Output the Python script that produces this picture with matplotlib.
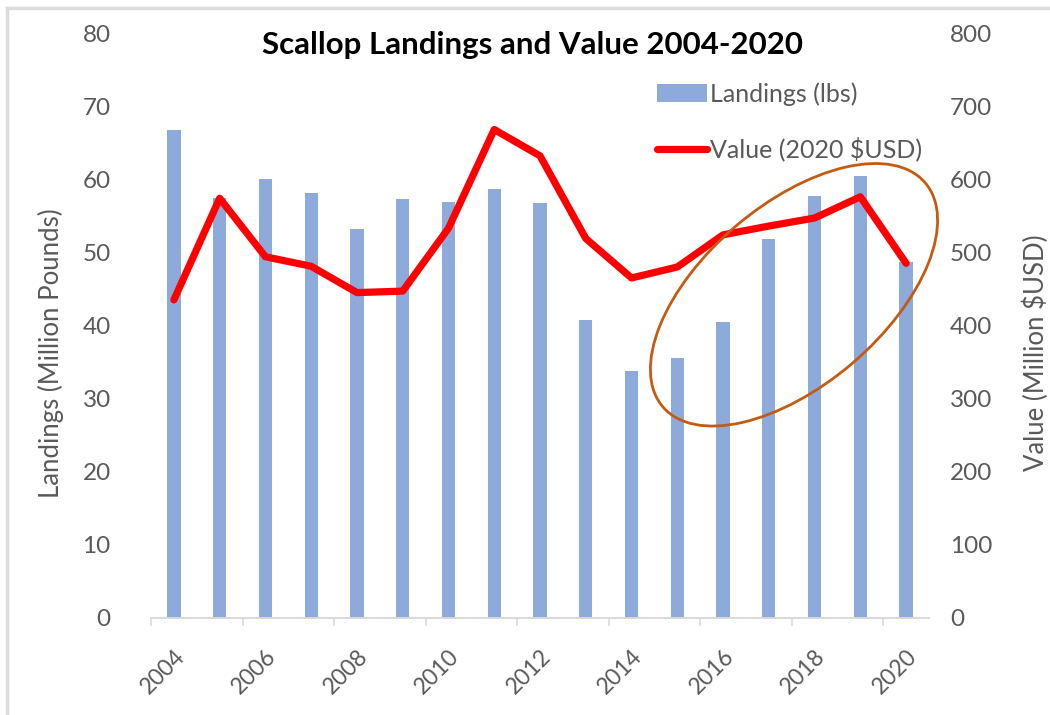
import matplotlib
matplotlib.use("Agg")
import matplotlib.pyplot as plt
import matplotlib.transforms as mtransforms
from matplotlib.patches import Ellipse
from matplotlib.lines import Line2D
from matplotlib.patches import Patch
import numpy as np

years = list(range(2004, 2021))
landings = [66.7, 57.5, 60.0, 58.1, 53.2, 57.3, 56.9, 58.7, 56.8,
            40.8, 33.8, 35.6, 40.5, 51.8, 57.7, 60.5, 48.7]   # million lbs
value = [435, 574, 494, 481, 445, 447, 533, 668, 632,
         519, 465, 480, 524, 536, 547, 576, 485]              # million 2020 USD
year_labels = [str(y) for y in years[::2]]

GREY = "#595959"
BLUE = "#8eaadb"
plt.rcParams['font.family'] = ['Lato', 'DejaVu Sans']

fig = plt.figure(figsize=(10.5, 7.15), dpi=100)
ax = fig.add_axes([151 / 1050, 1 - 618 / 715, (929 - 151) / 1050, (618 - 33) / 715])
ax2 = ax.twinx()

x = np.arange(len(years))
ax.bar(x, landings, width=0.29, color=BLUE, zorder=2)
ax2.plot(x, value, color="#ff0000", lw=5.2, solid_joinstyle="round",
         solid_capstyle="round", zorder=3)

ax.set_xlim(-0.5, len(years) - 0.5)
ax.set_ylim(0, 80)
ax2.set_ylim(0, 800)
ax.set_yticks(np.arange(0, 81, 10))
ax2.set_yticks(np.arange(0, 801, 100))

# ticks on category boundaries, labels on category centres
ax.set_xticks(np.arange(-0.5, len(years) - 0.5, 2))
ax.set_xticklabels([])
ax.set_xticks(x[::2], minor=True)
ax.set_xticklabels(year_labels, minor=True, rotation=45, ha="right",
                   va="top", rotation_mode="anchor", fontsize=16.5, color=GREY)
ax.tick_params(axis="x", which="major", length=6, color="#d9d9d9", width=1.2)
ax.tick_params(axis="x", which="minor", length=0, pad=20)
ax.tick_params(axis="y", length=0, labelsize=17.5, labelcolor=GREY, pad=29)
ax2.tick_params(axis="y", length=0, labelsize=17.5, labelcolor=GREY, pad=15)

for a in (ax, ax2):
    for s in ("top", "left", "right"):
        a.spines[s].set_visible(False)
    a.spines["bottom"].set_color("#d9d9d9")
    a.spines["bottom"].set_linewidth(1.2)

ax.set_ylabel("Landings (Million Pounds)", fontsize=18.5, color=GREY)
ax2.set_ylabel("Value (Million $USD)", fontsize=18.5, color=GREY, labelpad=22)
ax.yaxis.set_label_coords(-0.112, 0.453)
ax2.yaxis.label.set_y(0.453)

fig.text(533 / 1050, 1 - 45 / 715, "Scallop Landings and Value 2004-2020",
         ha="center", va="center", fontsize=22.5, fontweight="bold", color="black")

handles = [Patch(facecolor=BLUE, edgecolor="none"),
           Line2D([0], [0], color="#ff0000", lw=5.2, solid_capstyle="round")]
fig.legend(handles, ["Landings (lbs)", "Value (2020 $USD)"],
           loc="upper left", bbox_to_anchor=(647 / 1050, 1 - 72 / 715),
           frameon=False, fontsize=18, labelcolor=GREY, labelspacing=1.25,
           handlelength=2.0, handletextpad=0.1, borderaxespad=0)

# orange ellipse highlighting the recent rise
cx, cy = ax.transData.transform((13.55, 44.2))
ell = Ellipse((cx, cy), 345, 180, angle=40.5, fill=False, edgecolor="#c55a11",
              lw=2.0, transform=mtransforms.IdentityTransform(), zorder=4)
fig.add_artist(ell)

# light frame on top and left edge of the screenshot
fig.add_artist(Line2D([7 / 1050, 7 / 1050], [0, 1 - 8 / 715], color="#dcdcdc", lw=2.5))
fig.add_artist(Line2D([7 / 1050, 1], [1 - 8 / 715, 1 - 8 / 715], color="#dcdcdc", lw=2.5))

fig.savefig("out.png", dpi=100)
